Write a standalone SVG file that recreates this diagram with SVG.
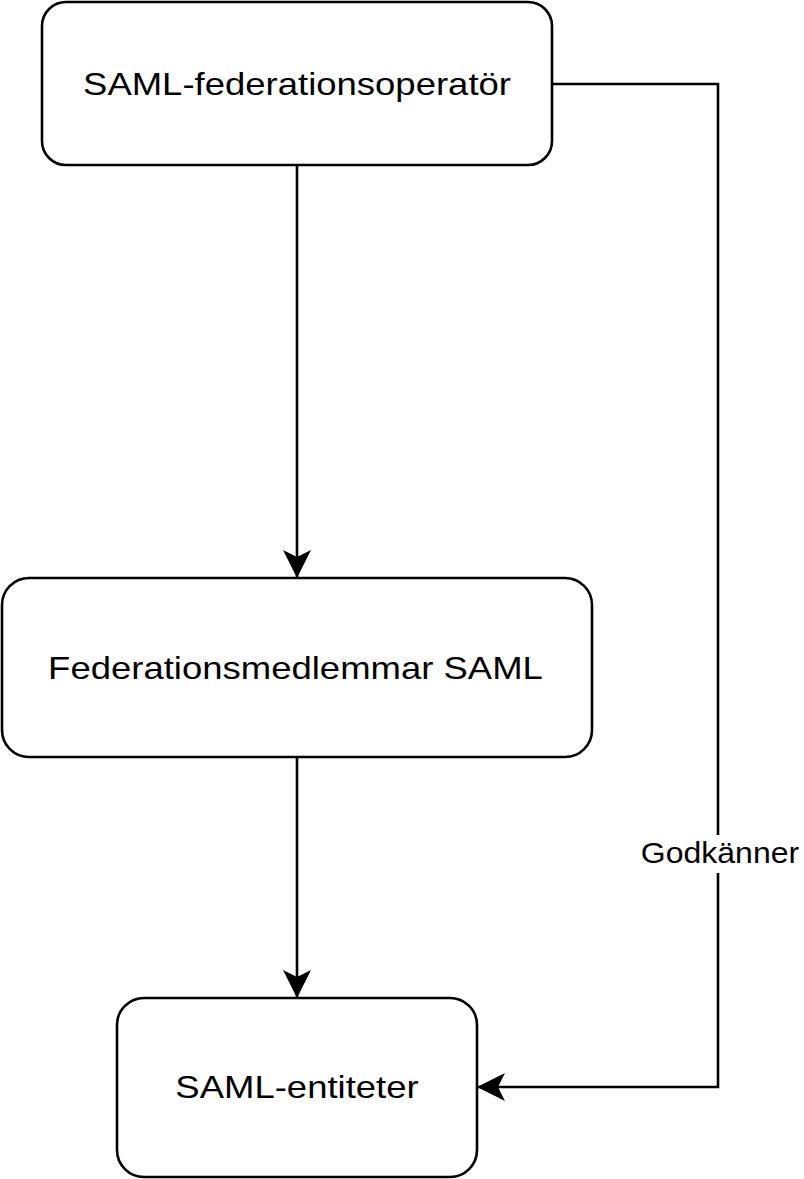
<svg xmlns="http://www.w3.org/2000/svg" width="804" height="1179" viewBox="0 0 804 1179">
<style>
.node rect{fill:#fff;stroke:#000;stroke-width:2.6}
.node text{font-family:"Liberation Sans",Arial,sans-serif;font-size:36.5px;fill:#000;text-anchor:middle}
.edge{fill:none;stroke:#000;stroke-width:2.6}
.lbl{font-family:"Liberation Sans",Arial,sans-serif;font-size:32px;fill:#000;text-anchor:middle}
</style>
<defs>
<marker id="arr" markerWidth="28" markerHeight="28" viewBox="0 0 28 28" refX="27" refY="14" orient="auto" markerUnits="userSpaceOnUse">
<path d="M0,0 L28,14 L0,28 L7,14 Z" fill="#000"/>
</marker>
</defs>
<rect width="804" height="1179" fill="#fff"/>
<g id="edges">
<path class="edge" d="M297,165 V577" marker-end="url(#arr)"/>
<path class="edge" d="M297,757 V997" marker-end="url(#arr)"/>
<path class="edge" d="M552,84 H718 V1087 H478" marker-end="url(#arr)"/>
<rect x="638" y="835" width="164" height="38" fill="#fff"/>
<text class="lbl" transform="translate(720,863) scale(1,0.9)">Godkänner</text>
</g>
<g id="n1" class="node">
<rect x="42" y="2" width="510" height="163" rx="24"/>
<text transform="translate(297,95) scale(1,0.85)">SAML-federationsoperatör</text>
</g>
<g id="n2" class="node">
<rect x="2" y="578" width="590" height="179" rx="27"/>
<text transform="translate(295.5,679) scale(1,0.85)">Federationsmedlemmar SAML</text>
</g>
<g id="n3" class="node">
<rect x="117" y="998" width="360" height="179" rx="27"/>
<text transform="translate(297,1098) scale(1,0.85)">SAML-entiteter</text>
</g>
</svg>
